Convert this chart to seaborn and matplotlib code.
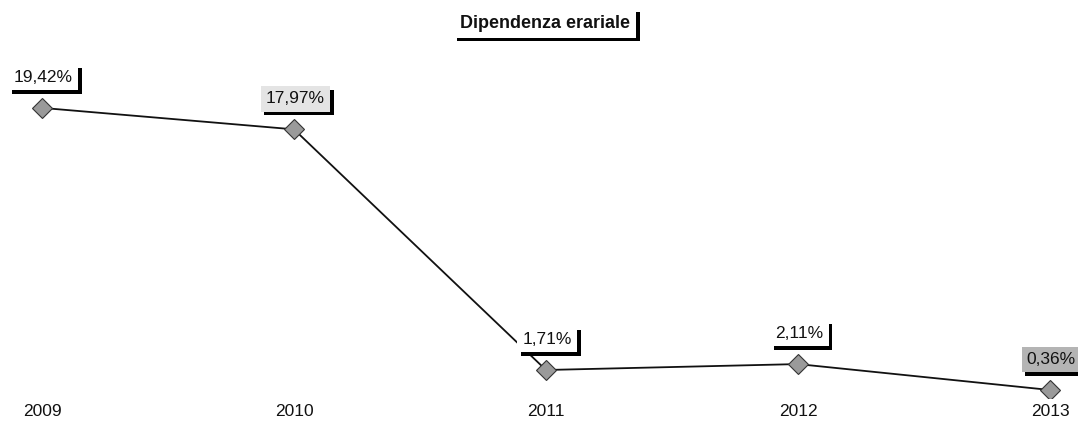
import matplotlib
matplotlib.use("Agg")
import matplotlib.pyplot as plt
import matplotlib.patheffects as pe
import seaborn as sns
import pandas as pd

# dati
anni = [2009, 2010, 2011, 2012, 2013]
dipendenza = [19.42, 17.97, 1.71, 2.11, 0.36]
etichette = ["19,42%", "17,97%", "1,71%", "2,11%", "0,36%"]
sfondi = ["white", "#e4e4e4", "white", "white", "#b4b4b4"]
titolo = "Dipendenza erariale"

df = pd.DataFrame({"anno": anni, "valore": dipendenza})

sns.set_style("white")
plt.rcParams["font.family"] = ["Liberation Sans", "DejaVu Sans"]

fig = plt.figure(figsize=(10.78, 4.21), dpi=100)
ax = fig.add_axes([0, 23 / 421, 1, 398 / 421])

sns.lineplot(data=df, x="anno", y="valore", ax=ax, color="#111111", linewidth=1.3,
             marker="D", markersize=10, markerfacecolor="#9a9a9a",
             markeredgecolor="#333333", markeredgewidth=0.8)

ax.set_xlim(2009 - 42 / 252, 2013 + 28 / 252)
ax.set_ylim(1.71 - 28 / 14.8, 1.71 + 370 / 14.8)

# etichette dei valori con ombra
ombra = [pe.withSimplePatchShadow(offset=(2.6, -2.6), shadow_rgbFace="black", alpha=1.0)]
for x, y, lab, bg in zip(anni, dipendenza, etichette, sfondi):
    t = ax.annotate(lab, (x, y), xytext=(1, 22), textcoords="offset points",
                    ha="center", va="center", fontsize=12.5, color="#111111",
                    bbox=dict(boxstyle="square,pad=0.3", facecolor=bg, edgecolor="none"))
    t.get_bbox_patch().set_path_effects(ombra)

# anni sotto il grafico
ax.set_xticks(anni)
ax.set_xticklabels([str(a) for a in anni], fontsize=12.5, color="#111111")
ax.tick_params(axis="x", length=0, pad=4)
ax.set_yticks([])
ax.set_xlabel("")
ax.set_ylabel("")
sns.despine(ax=ax, left=True, bottom=True)

# titolo con ombra
tt = fig.text(545 / 1078, 1 - 23 / 421, titolo, ha="center", va="center",
              fontsize=13, fontweight="bold", color="#111111",
              bbox=dict(boxstyle="square,pad=0.35", facecolor="white", edgecolor="none"))
tt.get_bbox_patch().set_path_effects(ombra)

fig.savefig("out.png", dpi=100)
